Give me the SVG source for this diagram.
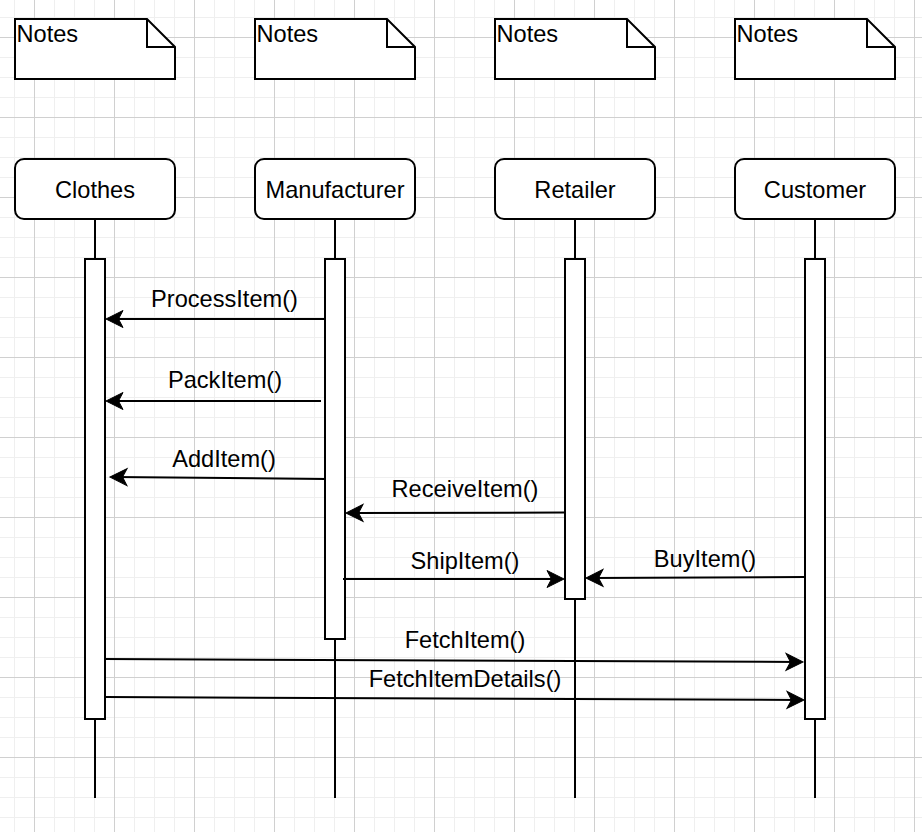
<svg xmlns="http://www.w3.org/2000/svg" width="922" height="832" viewBox="0 0 922 832">
<style>
.box{fill:#fff;stroke:#000;stroke-width:2}
.life{stroke:#000;stroke-width:2;fill:none}
.msg{stroke:#000;stroke-width:2;fill:none;marker-end:url(#arr)}
text{font-family:"Liberation Sans",Arial,Helvetica,sans-serif;font-size:23.6px;fill:#000}
.lbl{text-anchor:middle}
</style>
<defs>
<pattern id="minor" patternUnits="userSpaceOnUse" x="14" y="17" width="20" height="20">
<path d="M0.5 0V20M0 0.5H20" stroke="#efefef" stroke-width="1" fill="none"/>
</pattern>
<pattern id="major" patternUnits="userSpaceOnUse" x="34" y="37" width="80" height="80">
<path d="M0.5 0V80M0 0.5H80" stroke="#d0d0d0" stroke-width="1" fill="none"/>
</pattern>
<marker id="arr" markerUnits="userSpaceOnUse" viewBox="-20 -10 24 20" markerWidth="24" markerHeight="20" refX="-4" refY="0" orient="auto">
<path d="M0,0 L-17,-8.5 L-12.5,0 L-17,8.5 Z" fill="#000" stroke="#000" stroke-width="1" stroke-linejoin="miter"/>
</marker>
</defs>
<rect width="922" height="832" fill="#fff"/>
<rect width="922" height="832" fill="url(#minor)"/>
<rect width="922" height="832" fill="url(#major)"/>

<g id="note1"><path class="box" d="M15 19H147L175 47V79H15Z"/><path class="life" d="M147 19V47H175"/><text x="16.5" y="42">Notes</text></g>
<g id="note2"><path class="box" d="M255 19H387L415 47V79H255Z"/><path class="life" d="M387 19V47H415"/><text x="256.5" y="42">Notes</text></g>
<g id="note3"><path class="box" d="M495 19H627L655 47V79H495Z"/><path class="life" d="M627 19V47H655"/><text x="496.5" y="42">Notes</text></g>
<g id="note4"><path class="box" d="M735 19H867L895 47V79H735Z"/><path class="life" d="M867 19V47H895"/><text x="736.5" y="42">Notes</text></g>

<g id="clothes">
<line class="life" x1="95" y1="219" x2="95" y2="798"/>
<rect class="box" x="15" y="159" width="160" height="60" rx="9"/>
<text class="lbl" x="95" y="197.5">Clothes</text>
<rect class="box" x="85" y="259" width="20" height="460"/>
</g>
<g id="manufacturer">
<line class="life" x1="335" y1="219" x2="335" y2="798"/>
<rect class="box" x="255" y="159" width="160" height="60" rx="9"/>
<text class="lbl" x="335" y="197.5">Manufacturer</text>
<rect class="box" x="325" y="259" width="20" height="380"/>
</g>
<g id="retailer">
<line class="life" x1="575" y1="219" x2="575" y2="798"/>
<rect class="box" x="495" y="159" width="160" height="60" rx="9"/>
<text class="lbl" x="575" y="197.5">Retailer</text>
<rect class="box" x="565" y="259" width="20" height="340"/>
</g>
<g id="customer">
<line class="life" x1="815" y1="219" x2="815" y2="798"/>
<rect class="box" x="735" y="159" width="160" height="60" rx="9"/>
<text class="lbl" x="815" y="197.5">Customer</text>
<rect class="box" x="805" y="259" width="20" height="460"/>
</g>

<g id="connectors">
<line class="msg" x1="325" y1="319" x2="110" y2="319"/>
<text class="lbl" x="224.5" y="307">ProcessItem()</text>
<line class="msg" x1="321" y1="401" x2="110" y2="401"/>
<text class="lbl" x="225" y="388">PackItem()</text>
<line class="msg" x1="325" y1="479" x2="114" y2="477"/>
<text class="lbl" x="224" y="467">AddItem()</text>
<line class="msg" x1="565" y1="512.5" x2="350" y2="513"/>
<text class="lbl" x="465" y="497">ReceiveItem()</text>
<line class="msg" x1="343" y1="579" x2="560" y2="579"/>
<text class="lbl" x="465" y="568.5">ShipItem()</text>
<line class="msg" x1="805" y1="577" x2="590" y2="578"/>
<text class="lbl" x="705" y="567">BuyItem()</text>
<line class="msg" x1="104" y1="659" x2="799" y2="662"/>
<text class="lbl" x="465" y="648">FetchItem()</text>
<line class="msg" x1="105" y1="697" x2="800" y2="700"/>
<text class="lbl" x="465" y="687">FetchItemDetails()</text>
</g>
</svg>
